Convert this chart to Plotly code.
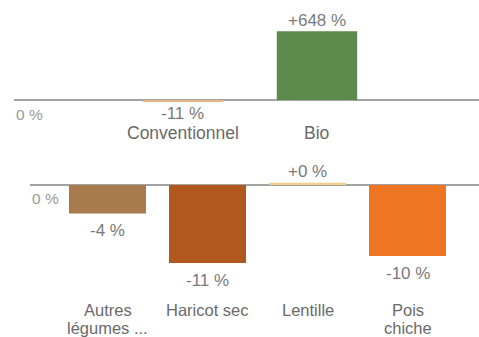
import plotly.graph_objects as go
from plotly.subplots import make_subplots

# Evolution by farming mode
modes = ["Conventionnel", "Bio"]
mode_changes = [-11, 648]
mode_colors = ["#e8b488", "#5c8a4b"]

# Evolution by pulse type
pulses = ["Autres<br>légumes ...", "Haricot sec", "Lentille", "Pois<br>chiche"]
pulse_keys = ["Autres légumes", "Haricot sec", "Lentille", "Pois chiche"]
pulse_changes = [-4, -11, 0.3, -10]
pulse_colors = ["#a77b4b", "#b0581d", "#f3cf8c", "#ee7623"]

FONT = "Liberation Sans, Arial, sans-serif"
VALUE_GREY = "#7a7a7a"
CAT_GREY = "#6a6a6a"
AXIS_GREY = "#a3a3a3"
W, H = 479, 337


def fmt(v):
    return f"{v:+.0f} %".replace("+-", "-")


fig = make_subplots(rows=2, cols=1)

fig.add_trace(go.Bar(x=modes, y=mode_changes, marker_color=mode_colors,
                     marker_line_width=0, width=0.6, hoverinfo="skip"),
              row=1, col=1)
fig.add_trace(go.Bar(x=pulse_keys, y=pulse_changes, marker_color=pulse_colors,
                     marker_line_width=0, width=0.77, hoverinfo="skip"),
              row=2, col=1)

# pixel-based layout of the two panels
top_px, bot_px = (10, 122), (165, 300)
fig.update_layout(
    width=W, height=H, margin=dict(l=0, r=0, t=0, b=0),
    paper_bgcolor="white", plot_bgcolor="white", showlegend=False,
    font=dict(family=FONT),
    xaxis=dict(domain=[14 / W, 1], range=[-1.261, 2.209], visible=False),
    yaxis=dict(domain=[1 - top_px[1] / H, 1 - top_px[0] / H],
               range=[-(top_px[1] - 100) / 0.106, (100 - top_px[0]) / 0.106],
               showgrid=False, showticklabels=False, zeroline=True,
               zerolinecolor=AXIS_GREY, zerolinewidth=2),
    xaxis2=dict(domain=[30 / W, 1], range=[-0.775, 3.715], visible=False),
    yaxis2=dict(domain=[1 - bot_px[1] / H, 1 - bot_px[0] / H],
                range=[-(bot_px[1] - 185) / 7.1, (185 - bot_px[0]) / 7.1],
                showgrid=False, showticklabels=False, zeroline=True,
                zerolinecolor=AXIS_GREY, zerolinewidth=2),
)

ann = []
# "0 %" markers at the left end of each baseline
for xr, yr in (("x domain", "y"), ("x2 domain", "y2")):
    ann.append(dict(xref=xr, yref=yr, x=0, y=0, xanchor="left", yanchor="middle",
                    yshift=-14, text="0 %", showarrow=False,
                    font=dict(size=15.5, color="#9a9a9a")))

# value labels
for cat, v in zip(modes, mode_changes):
    ann.append(dict(xref="x", yref="y", x=cat, y=v, yanchor="middle",
                    yshift=11 if v >= 0 else -12, text=fmt(v), showarrow=False,
                    font=dict(size=17, color=VALUE_GREY)))
for cat, v in zip(pulse_keys, pulse_changes):
    ann.append(dict(xref="x2", yref="y2", x=cat, y=v, yanchor="middle",
                    yshift=11 if v >= 0 else -17, text=fmt(v), showarrow=False,
                    font=dict(size=17, color=VALUE_GREY)))

# category names below each baseline
for cat in modes:
    ann.append(dict(xref="x", yref="y", x=cat, y=0, yanchor="middle", yshift=-33,
                    text=cat, showarrow=False, font=dict(size=17.5, color=CAT_GREY)))
for key, label in zip(pulse_keys, pulses):
    for i, line in enumerate(label.split("<br>")):
        ann.append(dict(xref="x2", yref="y2", x=key, y=0, yanchor="middle",
                        yshift=-125 - 18 * i, text=line, showarrow=False,
                        borderpad=0, font=dict(size=16.5, color=CAT_GREY)))

fig.update_layout(annotations=ann)
fig.write_html("out.html")
